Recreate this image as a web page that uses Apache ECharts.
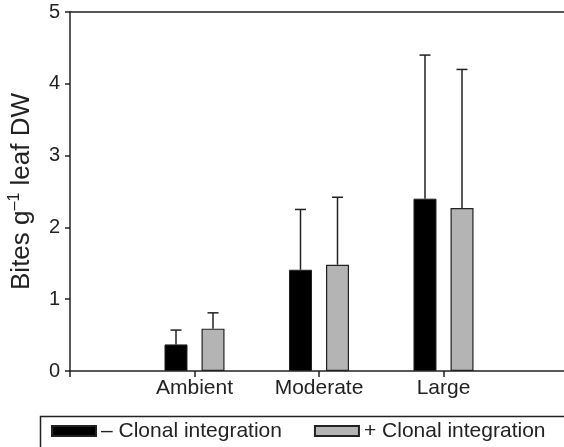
<!DOCTYPE html>
<html>
<head>
<meta charset="utf-8">
<script src="https://cdn.jsdelivr.net/npm/echarts@6/dist/echarts.min.js"></script>
<style>
  html, body { margin: 0; padding: 0; background: #fff; }
  #main { width: 564px; height: 447px; }
</style>
</head>
<body>
<div id="main"></div>
<script>
// padded with empty slots so the groups sit on the tick marks like the original
let categories = ['', 'Ambient', 'Moderate', 'Large', ''];
let seriesNames = ['\u2013 Clonal integration', '+ Clonal integration'];
let withoutMean = ['-', 0.37, 1.41, 2.40, '-'];
let withoutUpper = ['-', 0.57, 2.25, 4.40, '-'];
let withMean = ['-', 0.59, 1.48, 2.27, '-'];
let withUpper = ['-', 0.81, 2.42, 4.20, '-'];
let yTicks = [0, 1, 2, 3, 4, 5];

let font = 'Liberation Sans, Arial, Helvetica, sans-serif';
let ink = '#222';

function errData(mean, upper) {
  let out = [];
  for (let i = 0; i < categories.length; i++) {
    if (mean[i] === '-') continue;
    out.push([i, mean[i], upper[i]]);
  }
  return out;
}

function errSeries(data, shift) {
  return {
    type: 'custom',
    silent: true,
    z: 1,
    data: data,
    renderItem: function (params, api) {
      let base = api.coord([api.value(0), api.value(1)]);
      let top = api.coord([api.value(0), api.value(2)]);
      let x = base[0] + shift;
      let s = { stroke: ink, lineWidth: 1.5 };
      return {
        type: 'group',
        children: [
          { type: 'line', shape: { x1: x, y1: base[1], x2: x, y2: top[1] }, style: s },
          { type: 'line', shape: { x1: x - 5.5, y1: top[1], x2: x + 5.5, y2: top[1] }, style: s }
        ]
      };
    }
  };
}

let myChart = echarts.init(document.getElementById('main'));
let option = {
  animation: false,
  textStyle: { fontFamily: font },
  grid: { left: 70, top: 12, bottom: 76, right: -4, outerBoundsMode: 'none' },
  legend: {
    top: 420,
    left: 51,
    padding: 0,
    itemGap: 32,
    itemWidth: 44,
    itemHeight: 10,
    icon: 'rect',
    textStyle: { fontSize: 21, lineHeight: 22, color: ink, fontFamily: font },
    data: seriesNames
  },
  xAxis: [{
    type: 'category',
    data: categories,
    boundaryGap: false,
    axisLine: { lineStyle: { color: ink, width: 1.5 } },
    axisTick: { length: 6, lineStyle: { color: ink, width: 1.5 } },
    axisLabel: { fontSize: 21, color: ink, margin: 7, fontFamily: font },
    splitLine: { show: false }
  }, {
    type: 'category',
    position: 'top',
    data: categories,
    boundaryGap: false,
    axisLine: { lineStyle: { color: ink, width: 1.5 } },
    axisTick: { show: false },
    axisLabel: { show: false }
  }],
  yAxis: {
    type: 'value',
    min: yTicks[0],
    max: yTicks[yTicks.length - 1],
    interval: 1,
    name: 'Bites g{sup|\u20131} leaf DW',
    nameLocation: 'middle',
    nameGap: 34,
    nameTextStyle: {
      fontSize: 26, color: ink, fontFamily: font,
      rich: { sup: { fontSize: 16, verticalAlign: 'top', padding: [0, 0, 13, 0], color: ink, fontFamily: font } }
    },
    axisLine: { show: true, lineStyle: { color: ink, width: 1.5 } },
    axisTick: { show: true, length: 5, lineStyle: { color: ink, width: 1.5 } },
    axisLabel: { fontSize: 20, color: ink, margin: 10, fontFamily: font },
    splitLine: { show: false }
  },
  series: [
    {
      name: seriesNames[0],
      type: 'bar',
      data: withoutMean,
      barWidth: 23,
      barGap: '61%',
      z: 2,
      itemStyle: { color: '#000', borderColor: ink, borderWidth: 1 }
    },
    {
      name: seriesNames[1],
      type: 'bar',
      data: withMean,
      barWidth: 23,
      z: 2,
      itemStyle: { color: '#b4b4b4', borderColor: ink, borderWidth: 1.2 }
    },
    errSeries(errData(withoutMean, withoutUpper), -18.5),
    errSeries(errData(withMean, withUpper), 18.5)
  ],
  graphic: [{
    type: 'rect',
    left: 38,
    top: 414,
    shape: { width: 540, height: 50 },
    style: { fill: 'none', stroke: ink, lineWidth: 1.5 },
    silent: true
  }]
};
myChart.setOption(option);
</script>
</body>
</html>
